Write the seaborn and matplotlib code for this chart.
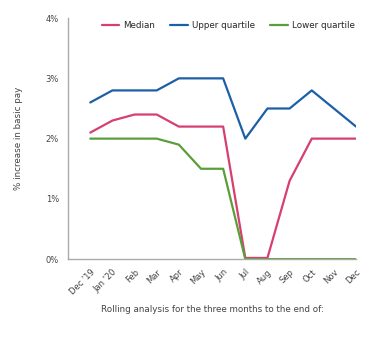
import matplotlib
matplotlib.use("Agg")
import matplotlib.pyplot as plt
import seaborn as sns
import pandas as pd
from matplotlib.ticker import FuncFormatter

months = ["Dec '19", "Jan '20", "Feb", "Mar", "Apr", "May", "Jun",
          "Jul", "Aug", "Sep", "Oct", "Nov", "Dec"]
median = [2.1, 2.3, 2.4, 2.4, 2.2, 2.2, 2.2, 0.02, 0.02, 1.3, 2.0, 2.0, 2.0]
upper = [2.6, 2.8, 2.8, 2.8, 3.0, 3.0, 3.0, 2.0, 2.5, 2.5, 2.8, 2.5, 2.2]
lower = [2.0, 2.0, 2.0, 2.0, 1.9, 1.5, 1.5, 0.0, 0.0, 0.0, 0.0, 0.0, 0.0]

df = pd.DataFrame({"x": list(range(len(months))) * 3,
                   "val": median + upper + lower,
                   "series": ["Median"] * 13 + ["Upper quartile"] * 13 + ["Lower quartile"] * 13})

sns.set_style("white")
plt.rcParams['font.family'] = ['DejaVu Sans']
fig = plt.figure(figsize=(3.87, 3.55), dpi=100)
ax = fig.add_axes([0.176, 0.27, 0.744, 0.679])
pal = {"Median": "#d63f6f", "Upper quartile": "#1d5fa6", "Lower quartile": "#5a9e3a"}
sns.lineplot(data=df, x="x", y="val", hue="series", palette=pal, linewidth=1.6, ax=ax)

ax.set_xlim(-1, 12)
ax.set_ylim(0, 4)
ax.set_yticks([0, 1, 2, 3, 4])
ax.yaxis.set_major_formatter(FuncFormatter(lambda v, p: f"{int(v)}%"))
ax.set_xticks(range(len(months)))
ax.set_xticklabels(months, rotation=45, ha="right", rotation_mode="anchor")
ax.tick_params(axis="both", labelsize=6, colors="#444444", length=3, width=0.8, direction="out")
ax.tick_params(axis="x", direction="inout", length=4, pad=4)
for s in ["top", "right"]:
    ax.spines[s].set_visible(False)
for s in ["left", "bottom"]:
    ax.spines[s].set_color("#aaaaaa")
    ax.spines[s].set_linewidth(1)
ax.set_xlabel("Rolling analysis for the three months to the end of:", fontsize=6.3, color="#444444", labelpad=6)
ax.set_ylabel("% increase in basic pay", fontsize=6.3, color="#444444", labelpad=16)
ax.legend(loc="upper center", bbox_to_anchor=(0.556, 1.02), ncol=3, frameon=False,
          fontsize=6.3, handlelength=2.0, columnspacing=1.7, handletextpad=0.5)
fig.savefig("out.png", dpi=100)
